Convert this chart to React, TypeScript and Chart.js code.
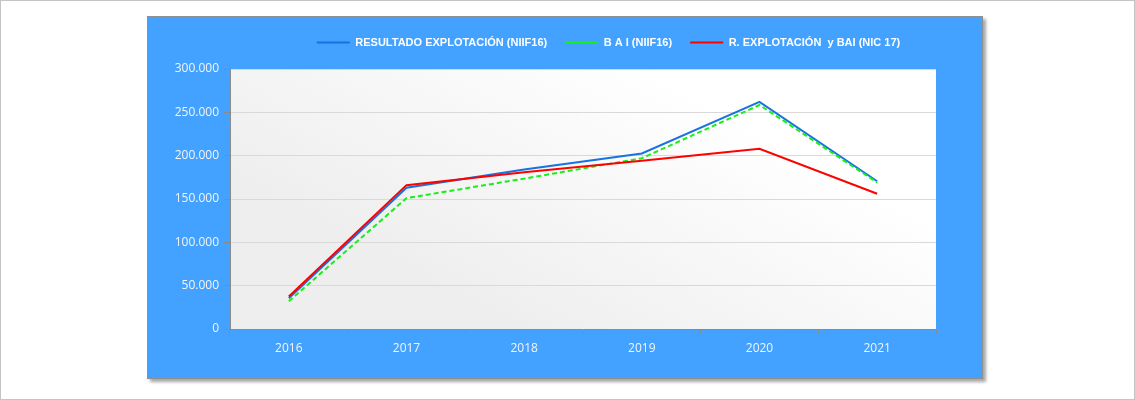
import React, { useEffect, useRef } from 'react';
import { Chart, registerables } from 'chart.js';

Chart.register(...registerables);

const categories = ['2016', '2017', '2018', '2019', '2020', '2021'];
const seriesNames = [
  'RESULTADO EXPLOTACIÓN (NIIF16)',
  'B A I (NIIF16)',
  'R. EXPLOTACIÓN  y BAI (NIC 17)',
];
const resultadoNiif16 = [35500, 163000, 184000, 202500, 262000, 170500];
const baiNiif16 = [32000, 151000, 173500, 197000, 258500, 169000];
const nic17 = [37500, 166000, 181000, 194000, 208000, 156000];
const yMin = 0;
const yMax = 300000;
const yStep = 50000;

const fmt = (v: number) => String(v).replace(/\B(?=(\d{3})+(?!\d))/g, '.');

const plotBg = {
  id: 'plotBg',
  beforeDraw(chart: any) {
    const { ctx, chartArea: a } = chart;
    if (!a) return;
    const cx = (a.left + a.right) / 2;
    const g = ctx.createLinearGradient(cx + 70, a.top, cx - 70, a.bottom);
    g.addColorStop(0, '#ffffff');
    g.addColorStop(1, '#eeeeee');
    ctx.save();
    ctx.fillStyle = g;
    ctx.fillRect(a.left, a.top, a.right - a.left, a.bottom - a.top);
    ctx.restore();
  },
};

export default function App() {
  const ref = useRef<HTMLCanvasElement | null>(null);

  useEffect(() => {
    if (!ref.current) return;
    const chart = new Chart(ref.current, {
      type: 'line',
      data: {
        labels: categories,
        datasets: [
          {
            label: seriesNames[0],
            data: resultadoNiif16,
            borderColor: '#1872e0',
            backgroundColor: '#1872e0',
            borderWidth: 2,
            pointRadius: 0,
            tension: 0,
            order: 2,
          },
          {
            label: seriesNames[1],
            data: baiNiif16,
            borderColor: '#16f016',
            backgroundColor: '#16f016',
            borderWidth: 2,
            borderDash: [5, 3],
            pointRadius: 0,
            tension: 0,
            order: 1,
          },
          {
            label: seriesNames[2],
            data: nic17,
            borderColor: '#ff0000',
            backgroundColor: '#ff0000',
            borderWidth: 2,
            pointRadius: 0,
            tension: 0,
            order: 0,
          },
        ],
      },
      options: {
        responsive: false,
        animation: false,
        layout: { padding: { top: 2, left: 0, right: 0, bottom: 0 } },
        plugins: {
          legend: {
            display: true,
            position: 'top',
            weight: 3000,
            labels: {
              usePointStyle: true,
              pointStyle: 'line',
              pointStyleWidth: 33,
              boxWidth: 33,
              padding: 18,
              color: '#ffffff',
              font: { family: '"Liberation Sans", Arial, sans-serif', size: 11, weight: 'bold' },
              sort: (a: any, b: any) => a.datasetIndex - b.datasetIndex,
            },
          } as any,
          title: {
            display: true,
            text: '',
            padding: 0,
            font: { size: 11, lineHeight: 1 },
          },
          tooltip: { enabled: false },
        },
        scales: {
          x: {
            type: 'category',
            offset: true,
            grid: {
              display: true,
              drawOnChartArea: false,
              drawTicks: true,
              tickLength: 5,
              offset: true,
              color: '#8a8a8a',
              tickColor: '#8a8a8a',
            },
            border: { display: true, color: '#8a8a8a', width: 1 },
            ticks: {
              color: '#f5f5f5',
              padding: 7,
              autoSkip: false,
              maxRotation: 0,
              font: { family: '"Open Sans", sans-serif', size: 12 },
            },
            afterFit: (s: any) => {
              s.height = 48;
            },
          },
          y: {
            type: 'linear',
            position: 'left',
            min: yMin,
            max: yMax,
            grid: {
              color: '#d9d9d9',
              tickColor: '#8a8a8a',
              tickLength: 6,
              drawTicks: true,
            },
            border: { display: true, color: '#8a8a8a', width: 1 },
            ticks: {
              stepSize: yStep,
              color: '#f5f5f5',
              padding: 5,
              font: { family: '"Open Sans", sans-serif', size: 12 },
              callback: (v: any) => fmt(Number(v)),
            },
            afterFit: (s: any) => {
              s.width = 82;
            },
          },
          yR: {
            type: 'linear',
            position: 'right',
            display: true,
            grid: { display: false, drawTicks: false },
            border: { display: false },
            ticks: { display: false },
            afterFit: (s: any) => {
              s.width = 133;
            },
          },
        },
      } as any,
      plugins: [plotBg],
    });
    return () => chart.destroy();
  }, []);

  return (
    <div
      style={{
        position: 'absolute',
        left: 0,
        top: 0,
        width: 1135,
        height: 400,
        boxSizing: 'border-box',
        border: '1px solid #c4c4c4',
        background: '#ffffff',
        overflow: 'hidden',
      }}
    >
      <div
        style={{
          position: 'absolute',
          left: 146,
          top: 15,
          width: 836,
          height: 363,
          boxSizing: 'border-box',
          border: '1px solid #8f8f8f',
          background: '#43a1ff',
          boxShadow: '3px 3px 3px rgba(0,0,0,0.35)',
        }}
      />
      <canvas
        ref={ref}
        width={921}
        height={360}
        style={{ position: 'absolute', left: 147, top: 16, width: 921, height: 360 }}
      />
    </div>
  );
}
